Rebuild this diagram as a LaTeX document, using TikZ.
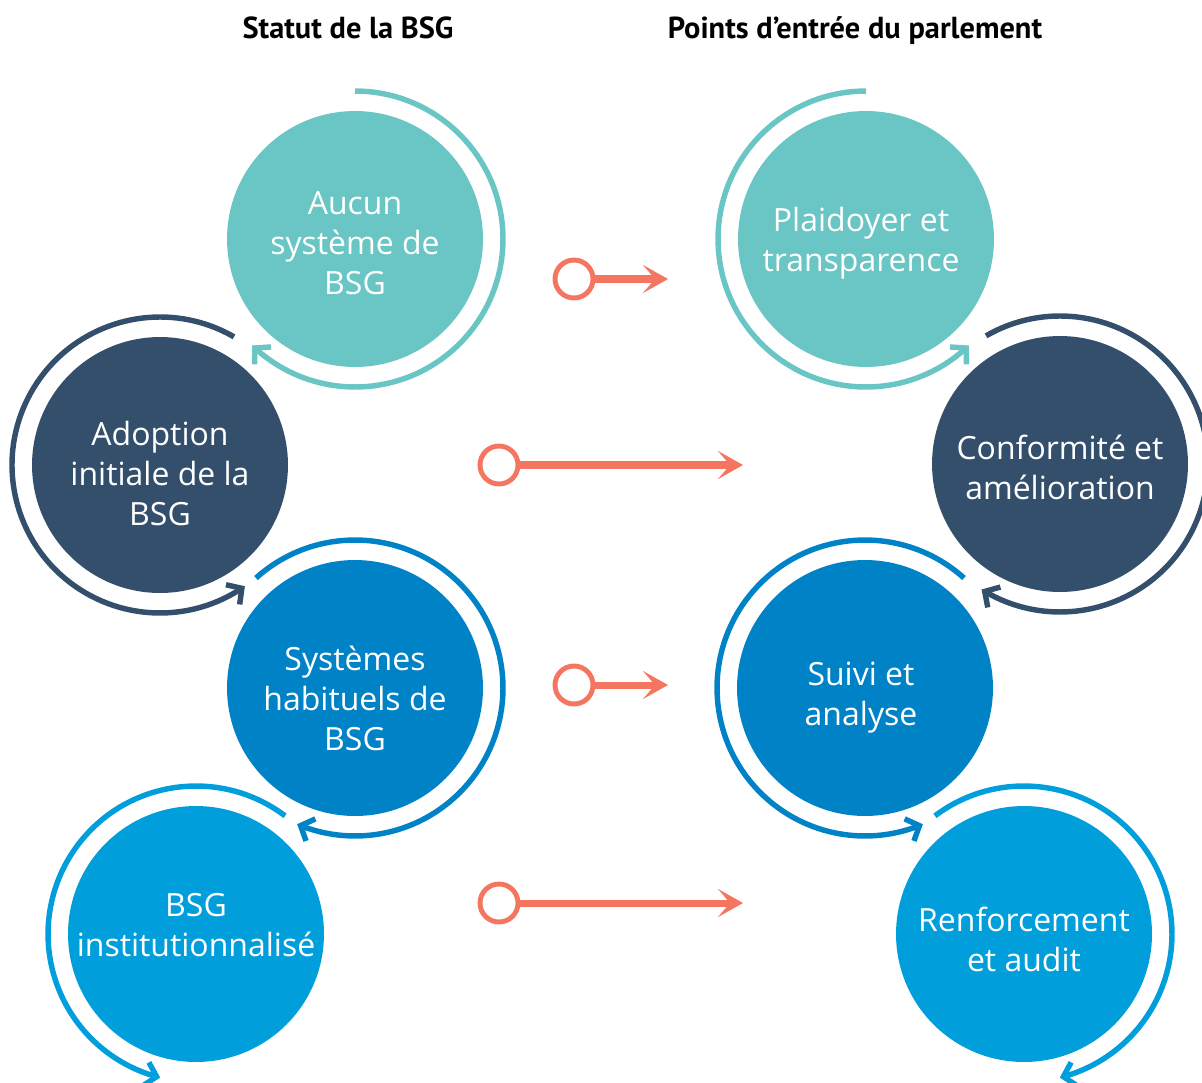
\documentclass[tikz,border=0pt]{standalone}
\usepackage{fontspec}
\setmainfont{Open Sans}
\newfontfamily\titlefont{PT Sans}
\usetikzlibrary{arrows.meta,bending,calc}
\definecolor{cteal}{HTML}{6AC6C4}
\definecolor{cnavy}{HTML}{334F6B}
\definecolor{cblue}{HTML}{0082C6}
\definecolor{clblue}{HTML}{009FDC}
\definecolor{corange}{HTML}{F47560}
\tikzset{
  disc/.style={circle, inner sep=0pt, minimum size=5.12cm, draw=none},
  lbl/.style={text=white, align=center, inner sep=0pt, font=\fontsize{18.2}{22.7}\selectfont},
  ttl/.style={text=black, inner sep=0pt, anchor=base, font=\titlefont\bfseries\fontsize{17.3}{20}\selectfont},
  ring/.style={line width=3.1pt, -{Straight Barb[length=2.2mm,width=4.8mm]}},
  ocirc/.style={circle, draw=corange, line width=2.8pt, minimum size=0.76cm, inner sep=0pt},
  oline/.style={draw=corange, line width=4pt, -{Stealth[length=5mm,width=5.6mm,inset=2.4mm]}}
}
\begin{document}
\begin{tikzpicture}[x=0.02cm,y=0.02cm]
\useasboundingbox (0,0) rectangle (1202,-1082);

% titles
\node[ttl] (t1) at (348,-38) {Statut de la BSG};
\node[ttl] (t2) at (855,-38) {Points d’entrée du parlement};

% left column discs
\node[disc, fill=cteal]  (c1) at (355,-239) {};
\node[disc, fill=cnavy]  (c2) at (160,-465) {};
\node[disc, fill=cblue]  (c3) at (355,-688) {};
\node[disc, fill=clblue] (c4) at (196,-934) {};
% right column discs
\node[disc, fill=cteal]  (c5) at (866,-239) {};
\node[disc, fill=cnavy]  (c6) at (1060,-464) {};
\node[disc, fill=cblue]  (c7) at (865,-688) {};
\node[disc, fill=clblue] (c8) at (1024,-934) {};

% labels
\node[lbl] (l1) at (355,-243.5) {Aucun\\système de\\BSG};
\node[lbl] (l2) at (160,-473.5) {Adoption\\initiale de la\\BSG};
\node[lbl] (l3) at (355,-698.5) {Systèmes\\habituels de\\BSG};
\node[lbl] (l4) at (196,-925.5) {BSG\\institutionnalisé};
\node[lbl] (l5) at (861,-243.5) {Plaidoyer et\\transparence};
\node[lbl] (l6) at (1060,-467.5) {Conformité et\\amélioration};
\node[lbl] (l7) at (861,-697.5) {Suivi et\\analyse};
\node[lbl] (l8) at (1024,-939.5) {Renforcement\\et audit};

% rings
\draw[ring, cteal]  ([shift={(90:2.96cm)}]c1.center)  arc[start angle=90,  end angle=-134, radius=2.96cm];
\draw[ring, cnavy]  ([shift={(60:2.96cm)}]c2.center)  arc[start angle=60,  end angle=305,  radius=2.96cm];
\draw[ring, cblue]  ([shift={(132:2.96cm)}]c3.center) arc[start angle=132, end angle=-113, radius=2.96cm];
\draw[ring, clblue] ([shift={(53:2.96cm)}]c4.center)  arc[start angle=53,  end angle=256,  radius=2.96cm];
\draw[ring, cteal]  ([shift={(90:2.96cm)}]c5.center)  arc[start angle=90,  end angle=314,  radius=2.96cm];
\draw[ring, cnavy]  ([shift={(120:2.96cm)}]c6.center) arc[start angle=120, end angle=-122, radius=2.96cm];
\draw[ring, cblue]  ([shift={(48:2.96cm)}]c7.center)  arc[start angle=48,  end angle=293,  radius=2.96cm];
\draw[ring, clblue] ([shift={(127:2.96cm)}]c8.center) arc[start angle=127, end angle=-76,  radius=2.96cm];

% orange arrows
\node[ocirc] (o1) at (574,-279) {};
\coordinate (e1) at (668,-279);
\draw[oline] (o1.east) -- (e1);
\node[ocirc] (o2) at (499,-465) {};
\coordinate (e2) at (743,-465);
\draw[oline] (o2.east) -- (e2);
\node[ocirc] (o3) at (574,-685) {};
\coordinate (e3) at (668,-685);
\draw[oline] (o3.east) -- (e3);
\node[ocirc] (o4) at (499,-903) {};
\coordinate (e4) at (743,-903);
\draw[oline] (o4.east) -- (e4);
\end{tikzpicture}
\end{document}
